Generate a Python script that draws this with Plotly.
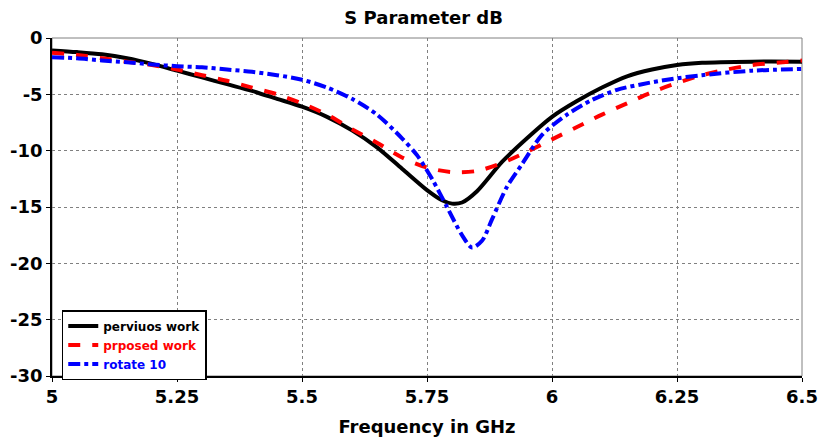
import plotly.graph_objects as go

# Data
f_black = [5.0, 5.05, 5.1, 5.15, 5.2, 5.25, 5.3, 5.35, 5.4, 5.45, 5.5, 5.55, 5.6, 5.65, 5.7, 5.75,
           5.78, 5.8, 5.82, 5.85, 5.9, 5.95, 6.0, 6.05, 6.1, 6.15, 6.2, 6.25, 6.3, 6.4, 6.5]
s_black = [-1.1, -1.25, -1.45, -1.8, -2.3, -2.9, -3.5, -4.1, -4.7, -5.4, -6.1, -7.0, -8.2, -9.7, -11.6, -13.5,
           -14.4, -14.7, -14.6, -13.6, -11.0, -8.9, -7.0, -5.6, -4.4, -3.4, -2.8, -2.4, -2.2, -2.1, -2.1]

f_red = [5.0, 5.05, 5.1, 5.15, 5.2, 5.25, 5.3, 5.35, 5.4, 5.45, 5.5, 5.55, 5.6, 5.65, 5.7, 5.75,
         5.8, 5.85, 5.9, 5.95, 6.0, 6.05, 6.1, 6.15, 6.2, 6.25, 6.3, 6.35, 6.4, 6.45, 6.5]
s_red = [-1.3, -1.5, -1.8, -2.1, -2.4, -2.8, -3.3, -3.8, -4.4, -5.0, -5.8, -6.8, -8.1, -9.3, -10.6, -11.5,
         -11.9, -11.8, -11.1, -10.1, -9.0, -7.9, -6.8, -5.8, -4.8, -4.0, -3.3, -2.8, -2.4, -2.2, -2.0]

f_blue = [5.0, 5.05, 5.1, 5.15, 5.2, 5.25, 5.3, 5.35, 5.4, 5.45, 5.5, 5.55, 5.6, 5.65, 5.7, 5.73,
          5.76, 5.79, 5.82, 5.84, 5.86, 5.88, 5.91, 5.94, 5.98, 6.03, 6.08, 6.13, 6.18, 6.23, 6.3, 6.4, 6.5]
s_blue = [-1.7, -1.8, -2.0, -2.15, -2.35, -2.5, -2.6, -2.8, -3.0, -3.3, -3.7, -4.4, -5.4, -6.8, -8.9, -10.4,
          -12.5, -15.0, -17.5, -18.6, -18.0, -16.1, -13.2, -11.2, -8.6, -6.8, -5.5, -4.6, -4.1, -3.7, -3.3, -2.9, -2.75]

x_ticks = [5, 5.25, 5.5, 5.75, 6, 6.25, 6.5]
x_tick_labels = ["5", "5.25", "5.5", "5.75", "6", "6.25", "6.5"]
y_ticks = [-30, -25, -20, -15, -10, -5, 0]
y_tick_labels = ["-30", "-25", "-20", "-15", "-10", "-5", "0"]

FONT = "DejaVu Sans"

fig = go.Figure()
fig.add_trace(go.Scatter(x=f_black, y=s_black, mode="lines",
                         name="<b><span style='color:black'>perviuos work</span></b>",
                         line=dict(color="black", width=4, shape="spline", smoothing=0.8)))
fig.add_trace(go.Scatter(x=f_red, y=s_red, mode="lines",
                         name="<b><span style='color:red'>prposed work</span></b>",
                         line=dict(color="red", width=4, dash="dash", shape="spline", smoothing=0.8)))
fig.add_trace(go.Scatter(x=f_blue, y=s_blue, mode="lines",
                         name="<b><span style='color:blue'>rotate 10</span></b>",
                         line=dict(color="blue", width=4, dash="dashdot", shape="spline", smoothing=0.8)))

fig.update_layout(
    width=821, height=439,
    margin=dict(l=52, r=19, t=38, b=63),
    paper_bgcolor="white", plot_bgcolor="white",
    font=dict(family=FONT, color="black"),
    title=dict(text="<b>S Parameter dB</b>", x=0.516, xanchor="center", y=0.96, yanchor="middle",
               font=dict(family=FONT, size=18, color="black")),
    showlegend=True,
    legend=dict(x=0.013, y=0.195, xanchor="left", yanchor="top",
                bgcolor="white", bordercolor="black", borderwidth=1.5,
                font=dict(family=FONT, size=12), tracegroupgap=0, itemwidth=30),
    shapes=[dict(type="rect", xref="paper", yref="paper", x0=0, x1=1, y0=0, y1=1,
                 line=dict(color="#808080", width=1), layer="below")],
)
fig.update_xaxes(range=[5, 6.5], tickvals=x_ticks, ticktext=x_tick_labels,
                 showgrid=True, gridcolor="#808080", griddash="dot", gridwidth=1,
                 showline=True, linecolor="black", linewidth=1.5,
                 ticks="outside", ticklen=4, tickcolor="black",
                 tickfont=dict(family=FONT, size=18, weight="bold"),
                 title=dict(text="<b>Frequency in GHz</b>", font=dict(family=FONT, size=18), standoff=14),
                 zeroline=False, automargin=False)
fig.update_yaxes(range=[-30, 0], tickvals=y_ticks, ticktext=y_tick_labels,
                 showgrid=True, gridcolor="#808080", griddash="dot", gridwidth=1,
                 showline=True, linecolor="black", linewidth=1.5,
                 ticks="outside", ticklen=4, tickcolor="black",
                 tickfont=dict(family=FONT, size=18, weight="bold"),
                 zeroline=False, automargin=False)

fig.write_html("out.html")
